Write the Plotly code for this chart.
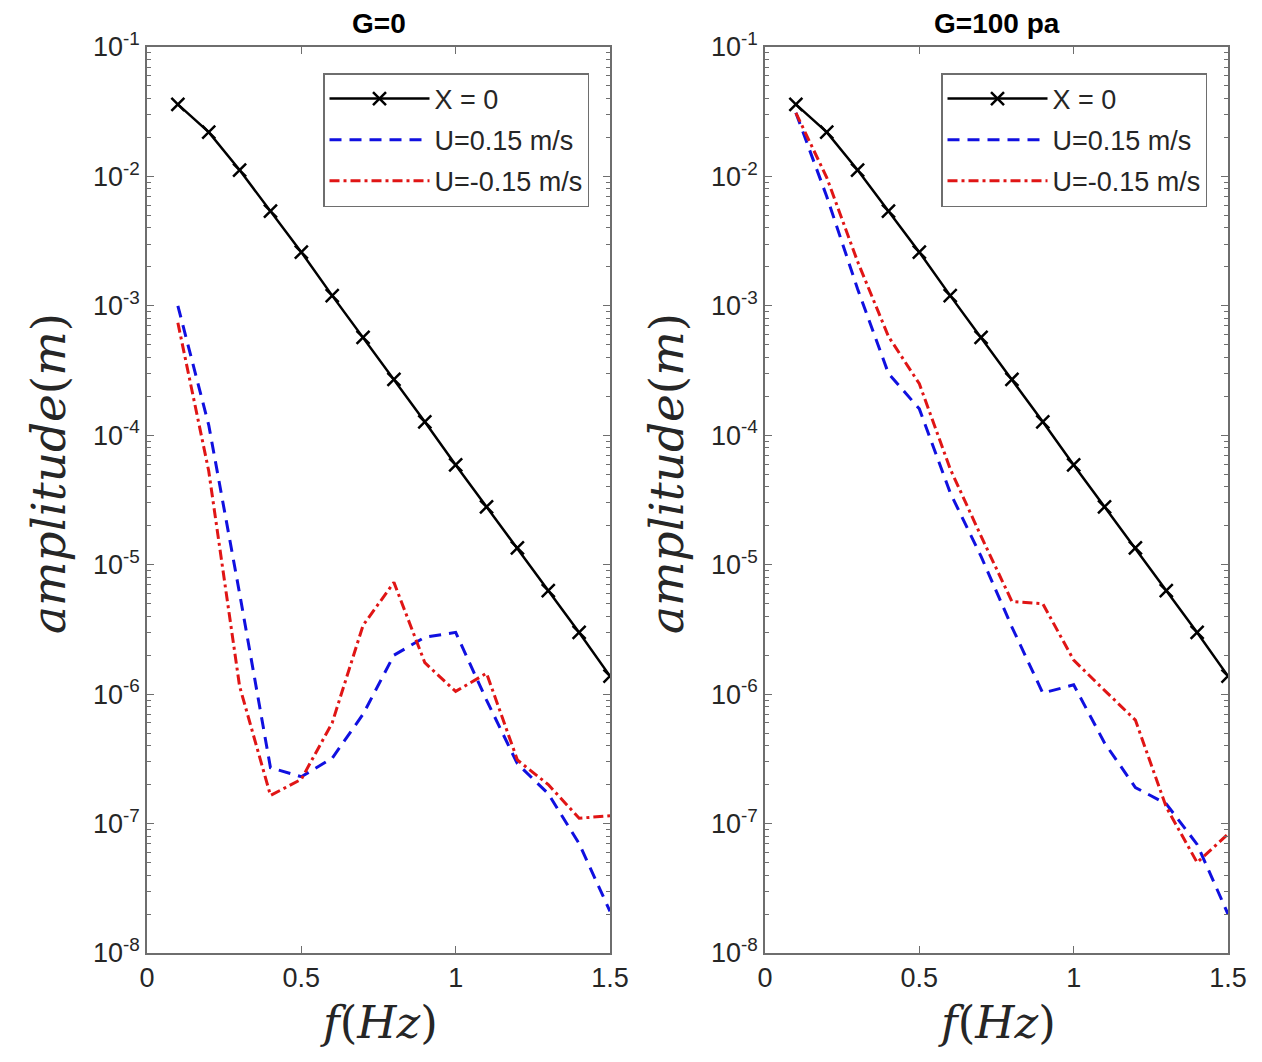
import plotly.graph_objects as go

freq = [0.1, 0.2, 0.3, 0.4, 0.5, 0.6, 0.7, 0.8, 0.9, 1.0, 1.1, 1.2, 1.3, 1.4, 1.5]

x0_amp = [0.036, 0.022, 0.0112, 0.0054, 0.0026, 0.0012, 5.7e-4, 2.7e-4, 1.27e-4,
          5.9e-5, 2.8e-5, 1.35e-5, 6.3e-6, 3.0e-6, 1.38e-6]

g0_up = [1.0e-3, 1.2e-4, 6.0e-6, 2.7e-7, 2.3e-7, 3.2e-7, 7.0e-7, 2.0e-6, 2.75e-6,
         3.0e-6, 9.0e-7, 2.9e-7, 1.7e-7, 7.0e-8, 2.1e-8]
g0_down = [7.4e-4, 5.3e-5, 1.15e-6, 1.65e-7, 2.2e-7, 6.0e-7, 3.4e-6, 7.3e-6, 1.75e-6,
           1.05e-6, 1.45e-6, 3.1e-7, 2.0e-7, 1.1e-7, 1.15e-7]

g100_up = [0.031, 7.0e-3, 1.35e-3, 3.0e-4, 1.6e-4, 3.6e-5, 1.16e-5, 3.3e-6, 1.02e-6,
           1.18e-6, 4.2e-7, 1.9e-7, 1.42e-7, 6.9e-8, 2.0e-8]
g100_down = [0.031, 9.8e-3, 2.2e-3, 5.8e-4, 2.5e-4, 5.5e-5, 1.66e-5, 5.2e-6, 5.0e-6,
             1.83e-6, 1.07e-6, 6.3e-7, 1.34e-7, 5.0e-8, 8.3e-8]

panel_titles = ["G=0", "G=100 pa"]
series_names = ["X = 0", "U=0.15 m/s", "U=-0.15 m/s"]
ytick_vals = [1e-8, 1e-7, 1e-6, 1e-5, 1e-4, 1e-3, 1e-2, 1e-1]
ytick_text = ["10<sup>-8</sup>", "10<sup>-7</sup>", "10<sup>-6</sup>", "10<sup>-5</sup>",
              "10<sup>-4</sup>", "10<sup>-3</sup>", "10<sup>-2</sup>", "10<sup>-1</sup>"]
xtick_vals = [0, 0.5, 1, 1.5]
xtick_text = ["0", "0.5", "1", "1.5"]

minor_vals = [k * 10.0 ** e for e in range(-8, -1) for k in range(2, 10)]

AX = "#6e6e6e"
TXT = "#262626"
SANS = "Liberation Sans, Arial"
SERIF = "DejaVu Serif, Liberation Serif"

# page body has an 8px margin; figure is sized to fit inside the window
OFF = 8
W, H = 1262 - 2 * OFF, 1062 - 2 * OFF


def px(x):
    return (x - OFF) / W


def py(y):
    return 1 - (y - OFF) / H


fig = go.Figure()

panels = [(g0_up, g0_down, "x", "y", "legend"), (g100_up, g100_down, "x2", "y2", "legend2")]
for up, down, xa, ya, lg in panels:
    fig.add_trace(go.Scatter(x=freq, y=x0_amp, mode="lines+markers", name=series_names[0],
                             xaxis=xa, yaxis=ya, legend=lg, legendgroup=lg + "a",
                             line=dict(color="black", width=2.5),
                             marker=dict(symbol="x-thin-open", size=13,
                                         line=dict(color="black", width=2.5))))
    fig.add_trace(go.Scatter(x=freq, y=up, mode="lines", name=series_names[1],
                             xaxis=xa, yaxis=ya, legend=lg, legendgroup=lg + "b",
                             line=dict(color="#1010e0", width=3, dash="12px,8px")))
    fig.add_trace(go.Scatter(x=freq, y=down, mode="lines", name=series_names[2],
                             xaxis=xa, yaxis=ya, legend=lg, legendgroup=lg + "c",
                             line=dict(color="#e01515", width=3, dash="10px,4px,3px,4px")))

ydom = [py(953), py(47)]
xdoms = [[px(147), px(610)], [px(765), px(1228)]]

common_x = dict(range=[0, 1.5], tickvals=xtick_vals, ticktext=xtick_text, automargin=False,
                ticks="inside", ticklen=7, tickcolor=AX, showline=True, linecolor=AX,
                linewidth=1.5, mirror="ticks", showgrid=False, zeroline=False,
                tickfont=dict(family=SANS, size=27, color=TXT))
common_y = dict(type="log", range=[-8, -1], tickvals=ytick_vals, ticktext=ytick_text,
                automargin=False,
                ticks="inside", ticklen=7, tickcolor=AX, showline=True, linecolor=AX,
                linewidth=1.5, mirror="ticks", showgrid=False, zeroline=False,
                minor=dict(tickvals=minor_vals, ticks="inside", ticklen=4, tickcolor=AX),
                tickfont=dict(family=SANS, size=27, color=TXT))

legend_common = dict(yanchor="top", xanchor="right", bgcolor="white", bordercolor=AX,
                     borderwidth=1.5, itemwidth=100, tracegroupgap=3,
                     font=dict(family=SANS, size=27, color=TXT))

fig.update_layout(
    template="none",
    width=W, height=H,
    margin=dict(l=0, r=0, t=0, b=0),
    paper_bgcolor="white", plot_bgcolor="white",
    xaxis=dict(domain=xdoms[0], anchor="y", **common_x),
    yaxis=dict(domain=ydom, anchor="x", **common_y),
    xaxis2=dict(domain=xdoms[1], anchor="y2", **common_x),
    yaxis2=dict(domain=ydom, anchor="x2", **common_y),
    legend=dict(x=px(589), y=py(73), **legend_common),
    legend2=dict(x=px(1207), y=py(73), **legend_common),
    showlegend=True,
)

centers = [(147 + 610) / 2, (765 + 1228) / 2]
for cx, title in zip(centers, panel_titles):
    fig.add_annotation(text="<b>" + title + "</b>", x=px(cx), y=py(24),
                       xanchor="center", yanchor="middle",
                       xref="paper", yref="paper", showarrow=False,
                       font=dict(family=SANS, size=28, color="black"))
    fig.add_annotation(text="<i>f</i>(<i>Hz</i>)", x=px(cx), y=py(1022),
                       xanchor="center", yanchor="middle",
                       xref="paper", yref="paper", showarrow=False,
                       font=dict(family=SERIF, size=45, color=TXT))

for xc in [48, 666]:
    fig.add_annotation(text="<i>amplitude</i>(<i>m</i>)", x=px(xc), y=py(474),
                       xanchor="center", yanchor="middle",
                       xref="paper", yref="paper", showarrow=False, textangle=-90,
                       font=dict(family=SERIF, size=47, color=TXT))

fig.write_html("out.html")
